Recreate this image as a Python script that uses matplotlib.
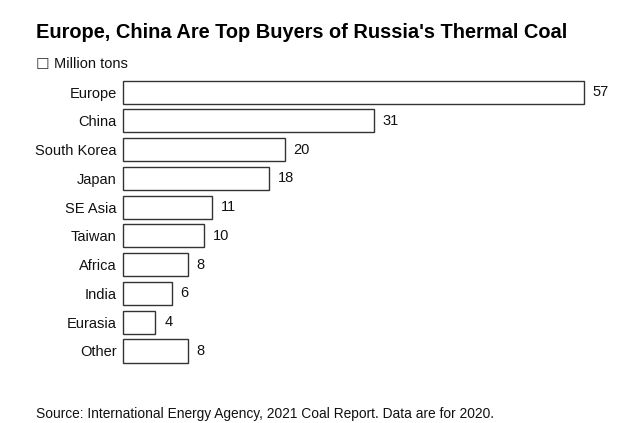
import matplotlib
matplotlib.use("Agg")
import matplotlib.pyplot as plt

plt.rcParams['font.family'] = ['Liberation Sans', 'DejaVu Sans']

# data (million tons, 2020)
regions = ["Europe", "China", "South Korea", "Japan", "SE Asia",
           "Taiwan", "Africa", "India", "Eurasia", "Other"]
tons = [57, 31, 20, 18, 11, 10, 8, 6, 4, 8]

fig = plt.figure(figsize=(6.4, 4.23), dpi=100)
ax = fig.add_axes([123 / 640, 1 - 362.5 / 423, 461 / 640, 282 / 423])

ypos = list(range(len(regions)))
bars = ax.barh(ypos, tons, height=0.8, color="white", edgecolor="#333333", linewidth=1.0)
for b in bars:
    b.set_clip_on(False)

# value labels just right of each bar
for y, v in zip(ypos, tons):
    ax.text(v + 1.1, y, str(v), va="center", ha="left", fontsize=10.5, color="#111111")

ax.set_xlim(0, 57)
ax.set_ylim(len(regions) - 0.6, -0.4)
ax.set_yticks(ypos)
ax.set_yticklabels(regions, fontsize=10.5, color="#111111")
ax.tick_params(axis="y", length=0, pad=4.5)
ax.set_xticks([])
for s in ax.spines.values():
    s.set_visible(False)

fig.text(36 / 640, 1 - 33 / 423, "Europe, China Are Top Buyers of Russia's Thermal Coal",
         fontsize=14.4, fontweight="bold", va="center", ha="left", color="#000000")
fig.text(36 / 640, 1 - 64 / 423, "\u2610", fontsize=11, va="center", ha="left",
         family="DejaVu Sans", color="#333333")
fig.text(54 / 640, 1 - 64 / 423, "Million tons", fontsize=10.5, va="center", ha="left",
         color="#111111")
fig.text(36 / 640, 1 - 414 / 423,
         "Source: International Energy Agency, 2021 Coal Report. Data are for 2020.",
         fontsize=9.9, va="center", ha="left", color="#111111")

fig.savefig("out.png", dpi=100)
